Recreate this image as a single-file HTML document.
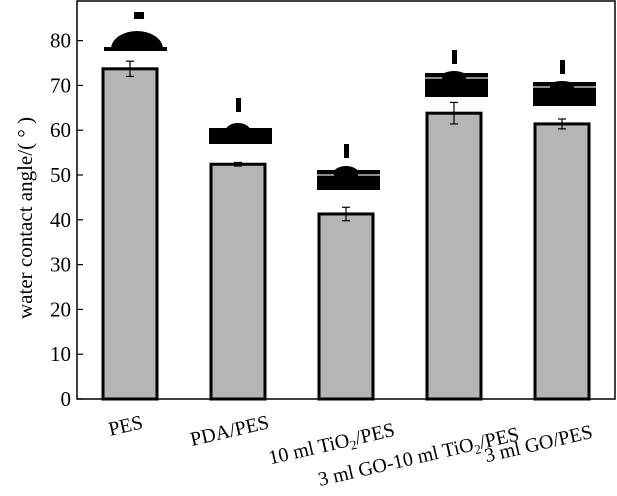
<!DOCTYPE html>
<html><head><meta charset="utf-8"><style>
html,body{margin:0;padding:0;background:#fff;}
svg text{font-family:"Liberation Serif",serif;fill:#000;}
</style></head><body>
<svg id="chart" width="617" height="491" viewBox="0 0 617 491" xmlns="http://www.w3.org/2000/svg">
<g id="drops"></g>
<g id="bars"></g>
<g id="axes"></g>
</svg>
<script>
const categories = ["PES", "PDA/PES", "10 ml TiO2/PES", "3 ml GO-10 ml TiO2/PES", "3 ml GO/PES"];
const values = [73.7, 52.4, 41.3, 63.8, 61.4];
const errors = [1.7, 0.4, 1.5, 2.4, 1.1];
const yTicks = [0, 10, 20, 30, 40, 50, 60, 70, 80];

const NS = "http://www.w3.org/2000/svg";
const L = 77, R = 615, T = 1, B = 399;
const y = v => B - v * 4.48;
const x = i => 130 + i * 108;
const BW = 54;
function mk(tag, attrs, parent) {
  const e = document.createElementNS(NS, tag);
  for (const k in attrs) e.setAttribute(k, attrs[k]);
  parent.appendChild(e);
  return e;
}
const bars = document.getElementById("bars");
const axes = document.getElementById("axes");
const drops = document.getElementById("drops");

// droplet photo layout: [needleY, bandY, bandH, domeTop]
const dropLayout = [null, [98, 128, 16, 123], [144, 170, 20, 166], [50, 73, 24, 71], [60, 82, 24, 81]];

categories.forEach((c, i) => {
  const r = mk("rect", {x: x(i) - BW / 2, y: y(values[i]), width: BW, height: B - y(values[i]), fill: "#b5b5b5", stroke: "#000", "stroke-width": 3}, bars);
  
  
  const g = mk("g", {stroke: "#000", "stroke-width": 1.2}, bars);
  
  
  const t = y(values[i] + errors[i]), b = y(values[i] - errors[i]);
  mk("line", {x1: x(i), x2: x(i), y1: t, y2: b}, g);
  mk("line", {x1: x(i) - 4, x2: x(i) + 4, y1: t, y2: t}, g);
  mk("line", {x1: x(i) - 4, x2: x(i) + 4, y1: b, y2: b}, g);

  const dg = mk("g", {}, drops);
  
  
  const cx = x(i);
  if (i === 0) {
    mk("rect", {x: 134, y: 12, width: 10, height: 7, fill: "#000"}, dg);
    mk("path", {d: `M111 49 A26 18 0 0 1 163 49 Z`, fill: "#000"}, dg);
    mk("rect", {x: 104, y: 47, width: 63, height: 4, fill: "#000"}, dg);
  } else {
    const [ny, by, bh, dt] = dropLayout[i];
    mk("rect", {x: cx - 2, y: ny, width: 5, height: 14, fill: "#000"}, dg);
    mk("ellipse", {cx: cx, cy: by + 4, rx: 13, ry: by + 4 - dt, fill: "#000"}, dg);
    mk("rect", {x: cx - 29, y: by, width: 63, height: bh, fill: "#000"}, dg);
    if (i > 1) {
      mk("line", {x1: cx - 29, x2: cx - 12, y1: by + 5, y2: by + 5, stroke: "#bbb", "stroke-width": 1.5}, dg);
      mk("line", {x1: cx + 12, x2: cx + 34, y1: by + 5, y2: by + 5, stroke: "#bbb", "stroke-width": 1.5}, dg);
    }
  }
});

const frame = mk("rect", {x: L, y: T, width: R - L, height: B - T, fill: "none", stroke: "#000", "stroke-width": 1.5}, axes);


yTicks.forEach(v => {
  const tk = mk("line", {x1: L, x2: L + 6, y1: y(v), y2: y(v), stroke: "#000", "stroke-width": 1.2}, axes);
  
  
  const tl = mk("text", {x: 71, y: y(v) + 7, "text-anchor": "end", "font-size": 21}, axes);
  tl.textContent = v;
  
  
});
const yt = mk("text", {transform: "translate(32,218) rotate(-90)", "text-anchor": "middle", "font-size": 21}, axes);
yt.textContent = "water contact angle/( ° )";



const labelPos = [[127, 432], [231, 437], [333, 450], [420, 463], [540, 450]];
categories.forEach((c, i) => {
  const t = mk("text", {transform: `translate(${labelPos[i][0]},${labelPos[i][1]}) rotate(-13)`, "text-anchor": "middle", "font-size": 20}, axes);
  
  
  const m = c.split("TiO2");
  if (m.length === 2) {
    t.appendChild(document.createTextNode(m[0] + "TiO"));
    const s = mk("tspan", {"font-size": 13, dy: 4}, t);
    s.textContent = "2";
    const r = mk("tspan", {dy: -4}, t);
    r.textContent = m[1];
  } else t.textContent = c;
});
</script>
</body></html>
